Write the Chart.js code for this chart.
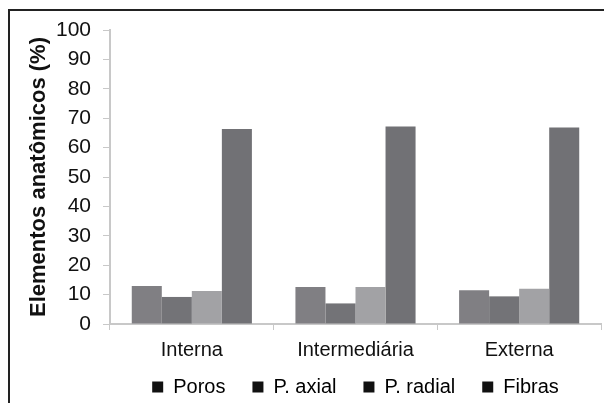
<!DOCTYPE html>
<html>
<head>
<meta charset="utf-8">
<script src="https://cdn.jsdelivr.net/npm/chart.js@4"></script>
<style>
  html, body { margin: 0; padding: 0; background: #fff; }
  #wrap { position: relative; width: 604px; height: 403px; overflow: hidden; }
  #frame { position: absolute; left: 8px; top: 9px; width: 700px; height: 500px; border-left: 2px solid #222; border-top: 2px solid #222; }
  canvas { position: absolute; left: 0; top: 0; }
</style>
</head>
<body>
<div id="wrap">
  <div id="frame"></div>
  <canvas id="chart" width="604" height="403"></canvas>
</div>
<script>
//categories along the x axis
const categories = ['Interna', 'Intermediária', 'Externa'];
//series values (%)
const poros = [12.9, 12.6, 11.5];
const pAxial = [9.2, 7.0, 9.4];
const pRadial = [11.2, 12.6, 12.0];
const fibras = [66.3, 67.2, 66.8];
//y tick labels
const yTicks = [0, 10, 20, 30, 40, 50, 60, 70, 80, 90, 100];

const font = 'Liberation Sans, Arial, sans-serif';
const axisGray = '#c8c8c8';
const padLeft = 22;

function bars(label, data, color) {
    return { label: label, data: data, backgroundColor: color, borderWidth: 0 };
}

//legend needs wide gaps between items but sits close under the axis labels,
//so pull it up a bit after the layout is done
const liftLegend = {
    id: 'liftLegend',
    afterLayout(chart) {
        chart.legend.top -= 20;
        chart.legend.bottom -= 20;
    }
};

new Chart(document.getElementById('chart'), {
    type: 'bar',
    data: {
        labels: categories,
        datasets: [
            bars('Poros', poros, '#807f83'),
            bars('P. axial', pAxial, '#737377'),
            bars('P. radial', pRadial, '#a2a2a5'),
            bars('Fibras', fibras, '#717175')
        ]
    },
    plugins: [liftLegend],
    options: {
        responsive: false,
        animation: false,
        devicePixelRatio: 1,
        layout: { padding: { left: padLeft, top: 30, right: 3, bottom: -24 } },
        datasets: { bar: { categoryPercentage: 0.734, barPercentage: 1 } },
        plugins: {
            tooltip: { enabled: false },
            legend: {
                position: 'bottom',
                fullSize: false,
                labels: {
                    boxWidth: 11,
                    boxHeight: 11,
                    padding: 27,
                    color: '#111',
                    font: { family: font, size: 20 },
                    // legend squares are black in the original
                    generateLabels: function(chart) {
                        return chart.data.datasets.map((ds, i) => ({
                            text: ds.label, fillStyle: '#111', strokeStyle: '#111',
                            lineWidth: 0, datasetIndex: i, hidden: false
                        }));
                    }
                }
            }
        },
        scales: {
            x: {
                grid: { drawOnChartArea: false, color: axisGray, tickLength: 6, lineWidth: 1 },
                border: { color: axisGray, width: 2 },
                ticks: { color: '#111', padding: 8, font: { family: font, size: 20 } }
            },
            y: {
                min: 0,
                max: 100,
                afterBuildTicks: function(scale) { scale.ticks = yTicks.map(v => ({ value: v })); },
                grid: { drawOnChartArea: false, color: axisGray, tickLength: 7 },
                border: { color: axisGray, width: 2 },
                ticks: { color: '#111', padding: 12, font: { family: font, size: 21 } },
                title: {
                    display: true,
                    text: 'Elementos anatômicos (%)',
                    color: '#111',
                    font: { family: font, size: 22, weight: 'bold' }
                },
                afterFit: function(scale) { scale.width = 110 - padLeft; }
            }
        }
    }
});
</script>
</body>
</html>
